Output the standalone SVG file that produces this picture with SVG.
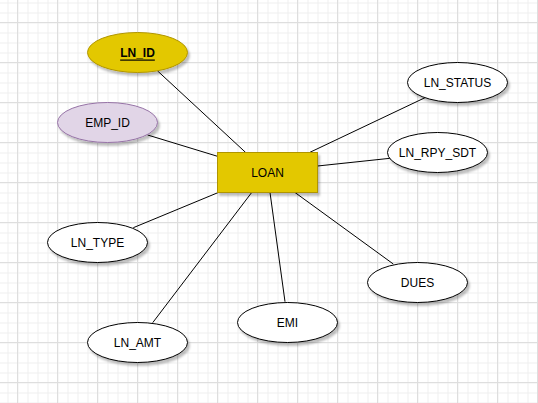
<svg xmlns="http://www.w3.org/2000/svg" width="538" height="403" viewBox="0 0 538 403">
<defs>
<pattern id="minor" x="7.5" y="2.5" width="10" height="10" patternUnits="userSpaceOnUse">
<path d="M0 0.5H10M0.5 0V10" fill="none" stroke="#efefef" stroke-width="1"/>
</pattern>
<pattern id="major" x="17" y="22" width="40" height="40" patternUnits="userSpaceOnUse">
<path d="M0 0.5H40M0.5 0V40" fill="none" stroke="#dedede" stroke-width="1"/>
</pattern>
<filter id="sh" x="-20%" y="-30%" width="150%" height="170%">
<feDropShadow dx="2" dy="3" stdDeviation="1" flood-color="#000" flood-opacity="0.25"/>
</filter>
<style>
.t{font-family:"Liberation Sans",Arial,sans-serif;font-size:12px;fill:#000;text-anchor:middle;dominant-baseline:central}
.w{fill:#ffffff;stroke:#000000;stroke-width:1;filter:url(#sh)}
.y{fill:#e3c800;stroke:#b09500;stroke-width:1;filter:url(#sh)}
.p{fill:#e1d5e7;stroke:#9673a6;stroke-width:1;filter:url(#sh)}
.c line{stroke:#000;stroke-width:1}
</style>
</defs>
<rect width="538" height="403" fill="#ffffff"/>
<rect width="538" height="403" fill="url(#minor)"/>
<rect width="538" height="403" fill="url(#major)"/>
<g id="connectors" class="c">
<line x1="157.3" y1="70.7" x2="245.7" y2="152.5"/>
<line x1="147.7" y1="135" x2="217.5" y2="156.3"/>
<line x1="425" y1="97.7" x2="309.5" y2="152.5"/>
<line x1="390" y1="158.3" x2="317.5" y2="166"/>
<line x1="393.3" y1="264" x2="295" y2="192.5"/>
<line x1="133.3" y1="227.7" x2="218.3" y2="192.5"/>
<line x1="152.7" y1="322.7" x2="251.7" y2="192.5"/>
<line x1="285" y1="301.7" x2="270" y2="192.5"/>
</g>
<g id="LOAN"><rect class="y" x="217.5" y="152.5" width="100" height="40"/><text class="t" x="267.5" y="172.5">LOAN</text></g>
<g id="LN_ID"><ellipse class="y" cx="137.5" cy="52.5" rx="50" ry="20"/><text class="t" x="137.5" y="52.5" font-weight="bold" text-decoration="underline">LN_ID</text></g>
<g id="EMP_ID"><ellipse class="p" cx="107.5" cy="122.5" rx="50" ry="20"/><text class="t" x="107.5" y="122.5">EMP_ID</text></g>
<g id="LN_STATUS"><ellipse class="w" cx="457.5" cy="82.5" rx="50" ry="20"/><text class="t" x="457.5" y="82.5">LN_STATUS</text></g>
<g id="LN_RPY_SDT"><ellipse class="w" cx="437.5" cy="152.5" rx="50" ry="20"/><text class="t" x="437.5" y="152.5">LN_RPY_SDT</text></g>
<g id="DUES"><ellipse class="w" cx="417.5" cy="282.5" rx="50" ry="20"/><text class="t" x="417.5" y="282.5">DUES</text></g>
<g id="LN_TYPE"><ellipse class="w" cx="97.5" cy="242.5" rx="50" ry="20"/><text class="t" x="97.5" y="242.5">LN_TYPE</text></g>
<g id="LN_AMT"><ellipse class="w" cx="137.5" cy="342.5" rx="50" ry="20"/><text class="t" x="137.5" y="342.5">LN_AMT</text></g>
<g id="EMI"><ellipse class="w" cx="287.5" cy="322.5" rx="50" ry="20"/><text class="t" x="287.5" y="322.5">EMI</text></g>
</svg>
